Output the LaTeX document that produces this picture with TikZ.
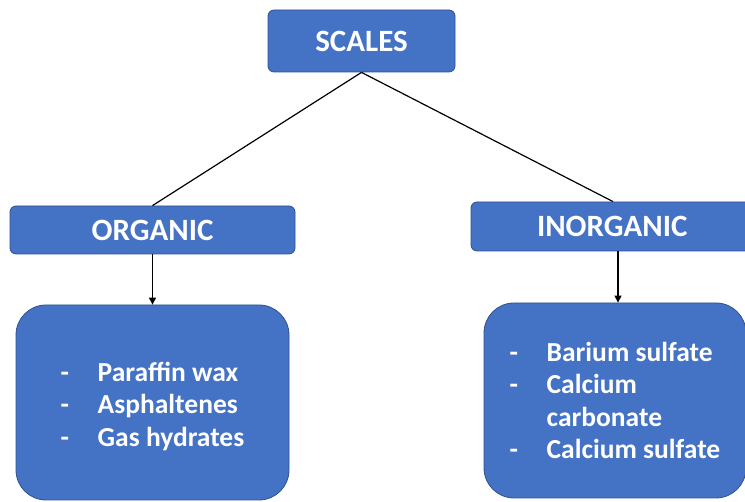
\documentclass[tikz,border=0pt]{standalone}
\usepackage{fontspec}
\setmainfont{Carlito}
\usetikzlibrary{arrows.meta}
\definecolor{boxblue}{HTML}{4472C4}
\definecolor{boxedge}{HTML}{2F528F}
\tikzset{
  headbox/.style={draw=boxedge, line width=0.8pt, fill=boxblue, rounded corners=6pt,
    text=white, font=\fontsize{31}{34}\selectfont\bfseries, inner sep=0pt},
  listbox/.style={draw=boxedge, line width=0.8pt, fill=boxblue, rounded corners=30pt,
    text=white, font=\fontsize{27.5}{32.5}\selectfont\bfseries, align=left, inner sep=0pt},
  link/.style={line width=1.2pt, black},
  arrowlink/.style={line width=1.2pt, black, -{Triangle[length=7pt,width=7pt]}}
}
\newcommand{\dashitem}{\makebox[37pt][l]{-}}
\begin{document}
\begin{tikzpicture}[x=1pt,y=1pt]
\useasboundingbox (0,0) rectangle (745,502);
\clip (0,0) rectangle (745,502);
\node[headbox, minimum width=187pt, minimum height=62pt] (scales) at (361.5,461) {SCALES};
\node[headbox, minimum width=285pt, minimum height=48pt] (organic) at (152.5,272) {ORGANIC};
\node[headbox, minimum width=294pt, minimum height=49pt, text width=294pt, align=left] (inorganic) at (618,275.5) {\hspace*{66pt}INORGANIC};
\node[listbox, minimum width=273pt, minimum height=195pt] (orgbox) at (152.5,99.5)
  {\raisebox{-5pt}[\height][\depth]{\begin{tabular}{@{}l@{}}\dashitem Paraffin wax\\\dashitem Asphaltenes\\\dashitem Gas hydrates\end{tabular}}};
\node[listbox, minimum width=262pt, minimum height=195pt] (inorgbox) at (615,101.5)
  {\dashitem Barium sulfate\\\dashitem Calcium\\\hspace*{37pt}carbonate\\\dashitem Calcium sulfate};
\draw[link] (scales.south) -- (organic.north);
\draw[link] (scales.south) -- ([xshift=-5pt]inorganic.north);
\draw[arrowlink] (organic.south) -- (orgbox.north);
\draw[arrowlink] (inorganic.south) -- (inorganic.south |- inorgbox.north);
\end{tikzpicture}
\end{document}
